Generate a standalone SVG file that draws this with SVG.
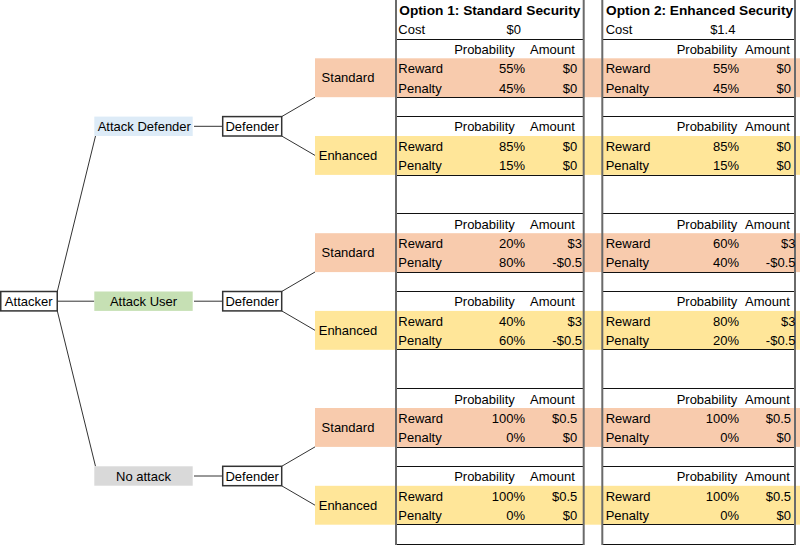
<svg xmlns="http://www.w3.org/2000/svg" width="800" height="546" viewBox="0 0 800 546">
<style>
text{font-family:"Liberation Sans",Arial,sans-serif;font-size:13px;fill:#000}
.b{font-weight:bold;font-size:13.7px}
.e{text-anchor:end}
.m{text-anchor:middle}
.box{fill:#fff;stroke:#333;stroke-width:1.5}
.con{stroke:#333;stroke-width:1;fill:none}
.std{fill:#F8CBAD}
.enh{fill:#FFE699}
.hl{stroke:#111;stroke-width:1}
.vl{stroke:#6a6a6a;stroke-width:2}
</style>
<rect width="800" height="546" fill="#fff"/>

<g id="bands">
<rect class="std" x="395" y="58.3" width="405" height="38.9"/>
<rect class="enh" x="395" y="136" width="405" height="38.9"/>
<rect class="std" x="395" y="233.2" width="405" height="38.9"/>
<rect class="enh" x="395" y="310.9" width="405" height="38.9"/>
<rect class="std" x="395" y="408" width="405" height="38.9"/>
<rect class="enh" x="395" y="485.8" width="405" height="38.9"/>
</g>

<g id="connectors">
<line class="con" x1="57.3" y1="291.5" x2="95.5" y2="136"/>
<line class="con" x1="58" y1="301.2" x2="94.3" y2="301.2"/>
<line class="con" x1="57.3" y1="310.9" x2="95.5" y2="466.3"/>
<line class="con" x1="194" y1="126.3" x2="222.7" y2="126.3"/>
<line class="con" x1="194" y1="301.2" x2="222.7" y2="301.2"/>
<line class="con" x1="194" y1="476" x2="222.7" y2="476"/>
<line class="con" x1="281.7" y1="116.6" x2="315" y2="97.2"/>
<line class="con" x1="281.7" y1="136" x2="315" y2="155.4"/>
<line class="con" x1="281.7" y1="291.5" x2="315" y2="272"/>
<line class="con" x1="281.7" y1="310.9" x2="315" y2="330.3"/>
<line class="con" x1="281.7" y1="466.3" x2="315" y2="446.9"/>
<line class="con" x1="281.7" y1="485.8" x2="315" y2="505.2"/>
</g>

<g id="attacker">
<rect class="box" x="0.75" y="291.5" width="56.5" height="19.4"/>
<text class="m" x="28.7" y="306.3">Attacker</text>
</g>

<g id="attack-defender">
<rect x="94.3" y="116.6" width="98.4" height="19.4" fill="#DDEBF7"/>
<text x="97.7" y="131.4">Attack Defender</text>
</g>
<g id="attack-user">
<rect x="94.3" y="291.5" width="98.4" height="19.4" fill="#C6E0B4"/>
<text class="m" x="143.5" y="306.3">Attack User</text>
</g>
<g id="no-attack">
<rect x="94.3" y="466.3" width="98.4" height="19.4" fill="#D9D9D9"/>
<text class="m" x="143.5" y="481.2">No attack</text>
</g>

<g id="defender-1">
<rect class="box" x="222.7" y="116.6" width="59" height="19.4"/>
<text class="m" x="252.2" y="131.4">Defender</text>
</g>
<g id="defender-2">
<rect class="box" x="222.7" y="291.5" width="59" height="19.4"/>
<text class="m" x="252.2" y="306.3">Defender</text>
</g>
<g id="defender-3">
<rect class="box" x="222.7" y="466.3" width="59" height="19.4"/>
<text class="m" x="252.2" y="481.2">Defender</text>
</g>

<g id="standard-1"><rect class="std" x="315" y="58.3" width="81" height="38.9"/><text class="m" x="348" y="82.4">Standard</text></g>
<g id="enhanced-1"><rect class="enh" x="315" y="136" width="81" height="38.9"/><text class="m" x="348" y="160">Enhanced</text></g>
<g id="standard-2"><rect class="std" x="315" y="233.2" width="81" height="38.9"/><text class="m" x="348" y="257.2">Standard</text></g>
<g id="enhanced-2"><rect class="enh" x="315" y="310.9" width="81" height="38.9"/><text class="m" x="348" y="335">Enhanced</text></g>
<g id="standard-3"><rect class="std" x="315" y="408" width="81" height="38.9"/><text class="m" x="348" y="432.1">Standard</text></g>
<g id="enhanced-3"><rect class="enh" x="315" y="485.8" width="81" height="38.9"/><text class="m" x="348" y="509.8">Enhanced</text></g>

<g id="table-option-1">
<g class="hl">
<line x1="396" y1="39.5" x2="584" y2="39.5"/>
<line x1="396" y1="97.5" x2="584" y2="97.5"/>
<line x1="396" y1="116.5" x2="584" y2="116.5"/>
<line x1="396" y1="175.5" x2="584" y2="175.5"/>
<line x1="396" y1="213.5" x2="584" y2="213.5"/>
<line x1="396" y1="272.5" x2="584" y2="272.5"/>
<line x1="396" y1="291.5" x2="584" y2="291.5"/>
<line x1="396" y1="349.5" x2="584" y2="349.5"/>
<line x1="396" y1="388.5" x2="584" y2="388.5"/>
<line x1="396" y1="447.5" x2="584" y2="447.5"/>
<line x1="396" y1="466.5" x2="584" y2="466.5"/>
<line x1="396" y1="524.5" x2="584" y2="524.5"/>
<line x1="396" y1="544.5" x2="584" y2="544.5"/>
</g>
<line class="vl" x1="396" y1="0" x2="396" y2="545"/>
<line class="vl" x1="583.7" y1="0" x2="583.7" y2="545"/>
<text class="b" x="399.3" y="14.8">Option 1: Standard Security</text>
<text x="398.3" y="34.3">Cost</text>
<text class="m" x="513.7" y="34.3">$0</text>

<text class="m" x="484.5" y="53.7">Probability</text><text class="m" x="552.5" y="53.7">Amount</text>
<text x="398.3" y="73.1">Reward</text><text class="e" x="525" y="73.1">55%</text><text class="e" x="577.3" y="73.1">$0</text>
<text x="398.3" y="92.6">Penalty</text><text class="e" x="525" y="92.6">45%</text><text class="e" x="577.3" y="92.6">$0</text>

<text class="m" x="484.5" y="131.4">Probability</text><text class="m" x="552.5" y="131.4">Amount</text>
<text x="398.3" y="150.9">Reward</text><text class="e" x="525" y="150.9">85%</text><text class="e" x="577.3" y="150.9">$0</text>
<text x="398.3" y="170.3">Penalty</text><text class="e" x="525" y="170.3">15%</text><text class="e" x="577.3" y="170.3">$0</text>

<text class="m" x="484.5" y="228.6">Probability</text><text class="m" x="552.5" y="228.6">Amount</text>
<text x="398.3" y="248">Reward</text><text class="e" x="525" y="248">20%</text><text class="e" x="582" y="248">$3</text>
<text x="398.3" y="267.4">Penalty</text><text class="e" x="525" y="267.4">80%</text><text class="e" x="582" y="267.4">-$0.5</text>

<text class="m" x="484.5" y="306.3">Probability</text><text class="m" x="552.5" y="306.3">Amount</text>
<text x="398.3" y="325.7">Reward</text><text class="e" x="525" y="325.7">40%</text><text class="e" x="582" y="325.7">$3</text>
<text x="398.3" y="345.1">Penalty</text><text class="e" x="525" y="345.1">60%</text><text class="e" x="582" y="345.1">-$0.5</text>

<text class="m" x="484.5" y="403.5">Probability</text><text class="m" x="552.5" y="403.5">Amount</text>
<text x="398.3" y="422.9">Reward</text><text class="e" x="525" y="422.9">100%</text><text class="e" x="577.3" y="422.9">$0.5</text>
<text x="398.3" y="442.3">Penalty</text><text class="e" x="525" y="442.3">0%</text><text class="e" x="577.3" y="442.3">$0</text>

<text class="m" x="484.5" y="481.2">Probability</text><text class="m" x="552.5" y="481.2">Amount</text>
<text x="398.3" y="500.6">Reward</text><text class="e" x="525" y="500.6">100%</text><text class="e" x="577.3" y="500.6">$0.5</text>
<text x="398.3" y="520">Penalty</text><text class="e" x="525" y="520">0%</text><text class="e" x="577.3" y="520">$0</text>
</g>

<g id="table-option-2">
<g class="hl">
<line x1="602" y1="39.5" x2="796" y2="39.5"/>
<line x1="602" y1="97.5" x2="796" y2="97.5"/>
<line x1="602" y1="116.5" x2="796" y2="116.5"/>
<line x1="602" y1="175.5" x2="796" y2="175.5"/>
<line x1="602" y1="213.5" x2="796" y2="213.5"/>
<line x1="602" y1="272.5" x2="796" y2="272.5"/>
<line x1="602" y1="291.5" x2="796" y2="291.5"/>
<line x1="602" y1="349.5" x2="796" y2="349.5"/>
<line x1="602" y1="388.5" x2="796" y2="388.5"/>
<line x1="602" y1="447.5" x2="796" y2="447.5"/>
<line x1="602" y1="466.5" x2="796" y2="466.5"/>
<line x1="602" y1="524.5" x2="796" y2="524.5"/>
<line x1="602" y1="544.5" x2="796" y2="544.5"/>
</g>
<line class="vl" x1="602.3" y1="0" x2="602.3" y2="545"/>
<line class="vl" x1="795" y1="0" x2="795" y2="545"/>
<text class="b" x="606" y="14.8">Option 2: Enhanced Security</text>
<text x="605.7" y="34.3">Cost</text>
<text class="m" x="722.8" y="34.3">$1.4</text>

<text class="m" x="707" y="53.7">Probability</text><text class="m" x="767.5" y="53.7">Amount</text>
<text x="605.7" y="73.1">Reward</text><text class="e" x="739" y="73.1">55%</text><text class="e" x="791" y="73.1">$0</text>
<text x="605.7" y="92.6">Penalty</text><text class="e" x="739" y="92.6">45%</text><text class="e" x="791" y="92.6">$0</text>

<text class="m" x="707" y="131.4">Probability</text><text class="m" x="767.5" y="131.4">Amount</text>
<text x="605.7" y="150.9">Reward</text><text class="e" x="739" y="150.9">85%</text><text class="e" x="791" y="150.9">$0</text>
<text x="605.7" y="170.3">Penalty</text><text class="e" x="739" y="170.3">15%</text><text class="e" x="791" y="170.3">$0</text>

<text class="m" x="707" y="228.6">Probability</text><text class="m" x="767.5" y="228.6">Amount</text>
<text x="605.7" y="248">Reward</text><text class="e" x="739" y="248">60%</text><text class="e" x="795.5" y="248">$3</text>
<text x="605.7" y="267.4">Penalty</text><text class="e" x="739" y="267.4">40%</text><text class="e" x="795.5" y="267.4">-$0.5</text>

<text class="m" x="707" y="306.3">Probability</text><text class="m" x="767.5" y="306.3">Amount</text>
<text x="605.7" y="325.7">Reward</text><text class="e" x="739" y="325.7">80%</text><text class="e" x="795.5" y="325.7">$3</text>
<text x="605.7" y="345.1">Penalty</text><text class="e" x="739" y="345.1">20%</text><text class="e" x="795.5" y="345.1">-$0.5</text>

<text class="m" x="707" y="403.5">Probability</text><text class="m" x="767.5" y="403.5">Amount</text>
<text x="605.7" y="422.9">Reward</text><text class="e" x="739" y="422.9">100%</text><text class="e" x="791" y="422.9">$0.5</text>
<text x="605.7" y="442.3">Penalty</text><text class="e" x="739" y="442.3">0%</text><text class="e" x="791" y="442.3">$0</text>

<text class="m" x="707" y="481.2">Probability</text><text class="m" x="767.5" y="481.2">Amount</text>
<text x="605.7" y="500.6">Reward</text><text class="e" x="739" y="500.6">100%</text><text class="e" x="791" y="500.6">$0.5</text>
<text x="605.7" y="520">Penalty</text><text class="e" x="739" y="520">0%</text><text class="e" x="791" y="520">$0</text>
</g>
</svg>
